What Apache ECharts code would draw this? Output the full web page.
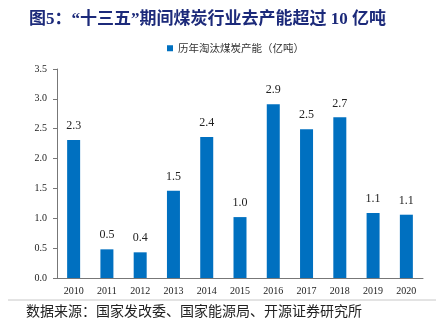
<!DOCTYPE html>
<html>
<head>
<meta charset="utf-8">
<script src="https://cdn.jsdelivr.net/npm/echarts@6/dist/echarts.min.js"></script>
<style>
html,body{margin:0;padding:0;background:#fff;}
#c{width:438px;height:336px;}
</style>
</head>
<body>
<div id="c"></div>
<script>
const titleText = '图5：“十三五”期间煤炭行业去产能超过 10 亿吨';
const sourceText = '数据来源：国家发改委、国家能源局、开源证券研究所';
const seriesName = '历年淘汰煤炭产能（亿吨）';
const categories = ['2010','2011','2012','2013','2014','2015','2016','2017','2018','2019','2020'];
const values = [2.31, 0.48, 0.43, 1.46, 2.36, 1.02, 2.91, 2.49, 2.69, 1.09, 1.06];
const yTicks = [0, 0.5, 1.0, 1.5, 2.0, 2.5, 3.0, 3.5];

const chart = echarts.init(document.getElementById('c'));
chart.setOption({
  animation: false,
  backgroundColor: '#fff',
  title: {
    text: titleText,
    left: 24, top: 6,
    textStyle: {fontFamily: '"Liberation Serif", "Noto Sans CJK SC"', fontWeight: 'bold', fontSize: 17, color: '#1c2a7a'}
  },
  legend: {
    data: [seriesName],
    top: 38, left: 162,
    itemWidth: 6, itemHeight: 6, itemGap: 4,
    icon: 'rect',
    textStyle: {fontFamily: '"Noto Sans CJK SC"', fontSize: 10.5, color: '#333'}
  },
  graphic: [
    {type: 'line', shape: {x1: 8, y1: 300, x2: 436, y2: 300}, style: {stroke: '#c8c8c8', lineWidth: 1}},
    {type: 'text', left: 26, top: 304, style: {text: sourceText, font: '14px "Noto Sans CJK SC"', fill: '#222'}}
  ],
  grid: {left: 57, right: 15, top: 69, bottom: 58},
  xAxis: {
    type: 'category',
    data: categories,
    axisLine: {lineStyle: {color: '#777', width: 1}},
    axisTick: {inside: true, length: 3, lineStyle: {color: '#777'}},
    axisLabel: {fontFamily: '"Liberation Serif"', fontSize: 10, color: '#222', margin: 8}
  },
  yAxis: {
    type: 'value',
    min: yTicks[0], max: yTicks[yTicks.length-1], interval: 0.5,
    axisLine: {show: true, lineStyle: {color: '#777', width: 1}},
    axisTick: {show: true, length: 4, lineStyle: {color: '#777'}},
    splitLine: {show: false},
    axisLabel: {fontFamily: '"Liberation Serif"', fontSize: 10, color: '#222', margin: 10,
      formatter: v => v.toFixed(1)}
  },
  series: [{
    name: seriesName,
    type: 'bar',
    data: values,
    barWidth: 13,
    itemStyle: {color: '#0070c0'},
    label: {show: true, position: 'top', distance: 8, fontFamily: '"Liberation Serif"', fontSize: 12, color: '#222',
      formatter: p => p.value.toFixed(1)}
  }]
});
</script>
</body>
</html>
